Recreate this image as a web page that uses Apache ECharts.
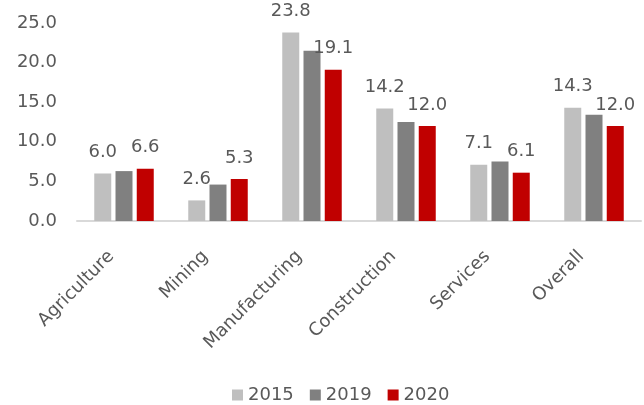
<!DOCTYPE html>
<html><head><meta charset="utf-8">
<script src="https://cdn.jsdelivr.net/npm/echarts@6/dist/echarts.min.js"></script>
<style>html,body{margin:0;padding:0;background:#fff}#c{width:644px;height:405px}</style>
</head><body><div id="c"></div>
<script>
const categories = ['Agriculture','Mining','Manufacturing','Construction','Services','Overall'];
const seriesNames = ['2015','2019','2020'];
const v2015 = [6.0, 2.6, 23.8, 14.2, 7.1, 14.3];
const v2019 = [6.3, 4.6, 21.5, 12.5, 7.5, 13.4];
const v2020 = [6.6, 5.3, 19.1, 12.0, 6.1, 12.0];
const yTicks = [0, 5, 25]; // min, interval, max

const FONT = '"DejaVu Sans",sans-serif';
const TXT = '#595959';
const colors = ['#bfbfbf', '#808080', '#c00000'];
const vals = [v2015, v2019, v2020];
const showLabel = [true, false, true];

const chart = echarts.init(document.getElementById('c'), null, {renderer:'canvas'});
chart.setOption({
  animation: false,
  textStyle: {fontFamily: FONT},
  legend: {
    bottom: 1, left: 232, padding: 0, itemWidth: 11, itemHeight: 11, itemGap: 16,
    icon: 'rect',
    textStyle: {fontFamily: FONT, fontSize: 18, color: TXT, padding: [0,0,0,0]},
    data: seriesNames
  },
  grid: {left: 77, right: 3, top: 23, bottom: 184, containLabel: false},
  xAxis: {
    type: 'category', data: categories,
    axisLine: {lineStyle: {color: '#d9d9d9', width: 2}},
    axisTick: {show: false},
    axisLabel: {rotate: 45, fontFamily: FONT, fontSize: 18, color: TXT, margin: 20, interval: 0,
      padding: [0, 18, 0, 0]}
  },
  yAxis: {
    type: 'value', min: yTicks[0], interval: yTicks[1], max: yTicks[2],
    splitLine: {show: false}, axisLine: {show: false}, axisTick: {show: false},
    axisLabel: {fontFamily: FONT, fontSize: 18, color: TXT, margin: 20, padding: [12,0,0,0],
      formatter: v => v.toFixed(1)}
  },
  series: seriesNames.map((n, i) => ({
    name: n, type: 'bar', data: vals[i], barWidth: 17, barGap: '25%',
    itemStyle: {color: colors[i]},
    label: {show: showLabel[i], position: 'top', distance: 12, fontFamily: FONT, fontSize: 18, color: TXT,
      formatter: p => p.value.toFixed(1)}
  }))
});
</script></body></html>
